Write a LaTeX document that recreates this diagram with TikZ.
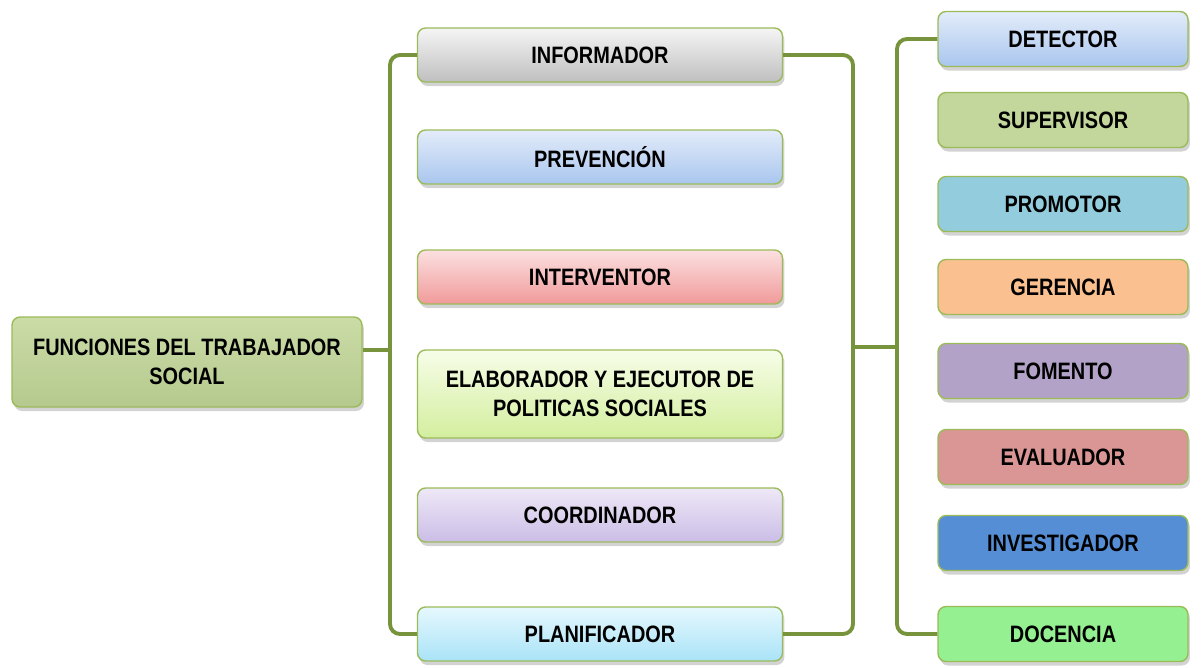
\documentclass[tikz,border=0pt]{standalone}
\usepackage{fontspec}
\setmainfont{Liberation Sans}[FakeStretch=0.84]
\usetikzlibrary{shadows}

\definecolor{linkgreen}{HTML}{77933C}
\definecolor{boxline}{HTML}{9BBB59}

\tikzset{
  box/.style={draw=boxline, line width=0.8pt, rounded corners=0.16cm,
    align=center, font=\fontsize{13.5}{16.5}\selectfont\bfseries,
    drop shadow={opacity=0.35, shadow xshift=0.04cm, shadow yshift=-0.08cm}},
  midbox/.style={box, minimum width=7.3cm, minimum height=1.08cm},
  sidebox/.style={box, minimum width=5cm, minimum height=1.1cm},
  link/.style={draw=linkgreen, line width=2.2pt, rounded corners=0.2cm},
}

\begin{document}
\begin{tikzpicture}[x=0.02cm, y=-0.02cm]
  \useasboundingbox (0,0) rectangle (1202,667);
  % root
  \node[box, minimum width=7cm, minimum height=1.8cm,
    top color={rgb,255:red,203;green,220;blue,166},
    bottom color={rgb,255:red,181;green,201;blue,142}]
    (root) at (187,362) {FUNCIONES DEL TRABAJADOR\\SOCIAL};
  % middle column
  \node[midbox, top color=gray!8, bottom color=gray!50] (informador) at (600,55) {INFORMADOR};
  \node[midbox, top color={rgb,255:red,227;green,236;blue,250}, bottom color={rgb,255:red,169;green,198;blue,238}]
    (prevencion) at (600,157) {PREVENCIÓN};
  \node[midbox, top color={rgb,255:red,251;green,224;blue,224}, bottom color={rgb,255:red,241;green,154;blue,154}]
    (interventor) at (600,277) {INTERVENTOR};
  \node[midbox, minimum height=1.76cm, top color={rgb,255:red,247;green,253;blue,232}, bottom color={rgb,255:red,211;green,238;blue,158}]
    (elaborador) at (600,394) {ELABORADOR Y EJECUTOR DE\\POLITICAS SOCIALES};
  \node[midbox, top color={rgb,255:red,238;green,232;blue,247}, bottom color={rgb,255:red,203;green,189;blue,230}]
    (coordinador) at (600,515) {COORDINADOR};
  \node[midbox, top color={rgb,255:red,230;green,248;blue,254}, bottom color={rgb,255:red,169;green,227;blue,247}]
    (planificador) at (600,634) {PLANIFICADOR};
  % right column
  \node[sidebox, top color={rgb,255:red,227;green,236;blue,250}, bottom color={rgb,255:red,169;green,198;blue,238}]
    (detector) at (1063,39) {DETECTOR};
  \node[sidebox, fill={rgb,255:red,195;green,214;blue,155}] (supervisor) at (1063,120) {SUPERVISOR};
  \node[sidebox, fill={rgb,255:red,147;green,205;blue,221}] (promotor) at (1063,204) {PROMOTOR};
  \node[sidebox, fill={rgb,255:red,250;green,192;blue,144}] (gerencia) at (1063,287) {GERENCIA};
  \node[sidebox, fill={rgb,255:red,179;green,162;blue,199}] (fomento) at (1063,371) {FOMENTO};
  \node[sidebox, fill={rgb,255:red,217;green,150;blue,148}] (evaluador) at (1063,457) {EVALUADOR};
  \node[sidebox, fill={rgb,255:red,85;green,142;blue,213}] (investigador) at (1063,543) {INVESTIGADOR};
  \node[sidebox, fill={rgb,255:red,148;green,240;blue,144}] (docencia) at (1063,634) {DOCENCIA};
  % brackets
  \coordinate (lb) at (390,350);
  \coordinate (mb) at (853,347);
  \coordinate (rb) at (897,347);
  \draw[link] (root.east |- lb) -- (lb);
  \draw[link] (informador.west) -| (lb) |- (planificador.west);
  \draw[link] (informador.east) -| (mb) |- (planificador.east);
  \draw[link] (mb) -- (rb);
  \draw[link] (detector.west) -| (rb) |- (docencia.west);
\end{tikzpicture}
\end{document}
